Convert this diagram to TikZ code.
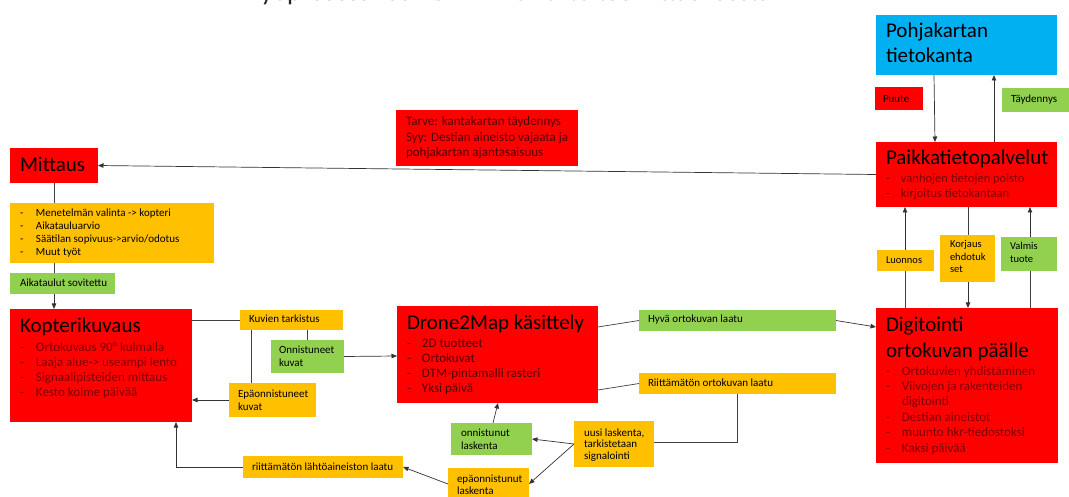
\documentclass[tikz,border=0pt]{standalone}
\usepackage{fontspec}
\setmainfont{Carlito}
\usetikzlibrary{arrows.meta}
\definecolor{cred}{RGB}{255,0,0}
\definecolor{corg}{RGB}{255,192,0}
\definecolor{cgrn}{RGB}{146,208,80}
\definecolor{cblu}{RGB}{0,176,240}
\definecolor{dred}{RGB}{125,0,0}
\definecolor{ddred}{RGB}{80,0,0}
\newcommand\panel[3]{\begin{minipage}[t][#2][t]{#1}\setlength\parindent{0pt}\raggedright #3\end{minipage}}
\newcommand\itm[1][16pt]{\makebox[#1][l]{-}}
\tikzset{
  pnl/.style={anchor=north west, inner sep=0pt, outer sep=0pt},
  ln/.style={draw=black!75, line width=0.7pt},
  arr/.style={draw=black!80, line width=0.7pt, -{Triangle[length=5.5pt,width=4.5pt]}}
}
\begin{document}
\begin{tikzpicture}[x=1pt,y=-1pt]
\useasboundingbox (0,0) rectangle (1069,497);
\fill[white] (0,0) rectangle (1069,497);
\node[anchor=base, font=\fontsize{27}{30}\selectfont, text=black!85] (title) at (510,1) {Työprosessikaavio MT1 lo kartoitusmittauksesta};

% right column
\node[pnl,fill=cblu] (pohja) at (876,15) {\panel{181pt}{60pt}{\leftskip=10pt\fontsize{21}{25}\selectfont\rule{0pt}{23pt}Pohjakartan\\tietokanta}};
\node[pnl,fill=cred] (puute) at (875,87) {\panel{48pt}{23pt}{\leftskip=8pt\fontsize{11}{13}\selectfont\rule{0pt}{16pt}Puute}};
\node[pnl,fill=cgrn] (tayd) at (1002,88) {\panel{72pt}{24pt}{\leftskip=9pt\fontsize{11}{13}\selectfont\rule{0pt}{15pt}Täydennys}};
\node[pnl,fill=cred] (paikka) at (876,142) {\panel{181pt}{65pt}{\leftskip=10pt{\fontsize{21}{24}\selectfont\rule{0pt}{23pt}Paikkatietopalvelut\par}\vspace{3.5pt}{\fontsize{12.5}{14.5}\selectfont\leavevmode\color{dred}\itm[15pt]vanhojen tietojen poisto\\\itm[15pt]kirjoitus tietokantaan\par}}};
\node[pnl,fill=corg] (luon) at (877,250) {\panel{57pt}{21pt}{\leftskip=9pt\fontsize{10.5}{12}\selectfont\rule{0pt}{13.5pt}Luonnos}};
\node[pnl,fill=corg] (korj) at (940,235) {\panel{55pt}{47pt}{\leftskip=10pt\fontsize{10.5}{12.5}\selectfont\rule{0pt}{13pt}Korjaus\\ehdotuk\\set}};
\node[pnl,fill=cgrn] (valm) at (1001,237) {\panel{56pt}{34pt}{\leftskip=9pt\fontsize{10.5}{13}\selectfont\rule{0pt}{13pt}Valmis\\tuote}};
\node[pnl,fill=cred] (digi) at (876,308) {\panel{182pt}{155pt}{\leftskip=10pt{\fontsize{21}{26}\selectfont\rule{0pt}{23pt}Digitointi\\ortokuvan päälle\par}\vspace{2.6pt}{\fontsize{13}{15.4}\selectfont\leavevmode\color{dred}\itm Ortokuvien yhdistäminen\\\itm Viivojen ja rakenteiden\\\hspace*{16pt}digitointi\\\itm Destian aineistot\\\itm muunto hkr-tiedostoksi\\\itm Kaksi päivää\par}}};

% top middle
\node[pnl,fill=cred] (tarve) at (396,110) {\panel{182pt}{56pt}{\leftskip=10pt\fontsize{13}{15.5}\selectfont\leavevmode\color{ddred}\rule{0pt}{16pt}Tarve: kantakartan täydennys\\Syy: Destian aineisto vajaata ja\\pohjakartan ajantasaisuus}};

% left column
\node[pnl,fill=cred] (mit) at (10,148) {\panel{88pt}{35pt}{\leftskip=10pt\fontsize{21}{24}\selectfont\rule{0pt}{24pt}Mittaus}};
\node[pnl,fill=corg] (list) at (10,203) {\panel{204pt}{60pt}{\leftskip=10pt\fontsize{11}{12.7}\selectfont\rule{0pt}{14pt}\itm Menetelmän valinta -> kopteri\\\itm Aikatauluarvio\\\itm Säätilan sopivuus->arvio/odotus\\\itm Muut työt}};
\node[pnl,fill=cgrn] (aika) at (10,273) {\panel{105pt}{21pt}{\leftskip=10pt\fontsize{11}{13}\selectfont\rule{0pt}{14pt}Aikataulut sovitettu}};
\node[pnl,fill=cred] (kop) at (10,309) {\panel{182pt}{113pt}{\leftskip=10pt{\fontsize{21}{24}\selectfont\rule{0pt}{23pt}Kopterikuvaus\par}\vspace{5pt}{\fontsize{13}{15}\selectfont\leavevmode\color{dred}\itm Ortokuvaus 90° kulmalla\\\itm Laaja alue-> useampi lento\\\itm Signaalipisteiden mittaus\\\itm Kesto kolme päivää\par}}};

\node[pnl,fill=corg] (kuv) at (240,310) {\panel{103pt}{20pt}{\leftskip=9pt\fontsize{11}{13}\selectfont\rule{0pt}{13pt}Kuvien tarkistus}};
\node[pnl,fill=cgrn] (onn) at (271,340) {\panel{73pt}{33pt}{\leftskip=8pt\fontsize{11}{13}\selectfont\rule{0pt}{13pt}Onnistuneet\\kuvat}};
\node[pnl,fill=corg] (epa) at (229,383) {\panel{87pt}{34pt}{\leftskip=9pt\fontsize{11}{13}\selectfont\rule{0pt}{14pt}Epäonnistuneet\\kuvat}};
\node[pnl,fill=corg] (riitl) at (243,456) {\panel{160pt}{22pt}{\leftskip=9pt\fontsize{11}{13}\selectfont\rule{0pt}{14pt}riittämätön lähtöaineiston laatu}};

% middle
\node[pnl,fill=cred] (drone) at (397,306) {\panel{201pt}{97pt}{\leftskip=10pt{\fontsize{21}{24}\selectfont\rule{0pt}{24pt}Drone2Map käsittely\par}\vspace{3pt}{\fontsize{13}{15}\selectfont\leavevmode\color{ddred}\itm[15pt]2D tuotteet\\\itm[15pt]Ortokuvat\\\itm[15pt]DTM-pintamalli rasteri\\\itm[15pt]Yksi päivä\par}}};
\node[pnl,fill=cgrn] (hyva) at (639,310) {\panel{197pt}{21pt}{\leftskip=9pt\fontsize{11}{13}\selectfont\rule{0pt}{13pt}Hyvä ortokuvan laatu}};
\node[pnl,fill=corg] (riitt) at (639,373) {\panel{197pt}{21pt}{\leftskip=9pt\fontsize{11}{13}\selectfont\rule{0pt}{13pt}Riittämätön ortokuvan laatu}};
\node[pnl,fill=cgrn] (onnl) at (451,423) {\panel{81pt}{32pt}{\leftskip=10pt\fontsize{11}{13}\selectfont\rule{0pt}{13pt}onnistunut\\laskenta}};
\node[pnl,fill=corg] (uusi) at (574,421) {\panel{80pt}{46pt}{\leftskip=10pt\fontsize{11}{11.5}\selectfont\rule{0pt}{15pt}uusi laskenta,\\tarkistetaan\\signalointi}};
\node[pnl,fill=corg] (epal) at (448,468) {\panel{81pt}{32pt}{\leftskip=9pt\fontsize{11}{12}\selectfont\rule{0pt}{14pt}epäonnistunut\\laskenta}};

% connectors
\draw[arr] ([xshift=58pt]pohja.south west) -- ([xshift=59pt]paikka.north west);
\draw[arr] ([xshift=118pt]paikka.north west) -- ([xshift=118pt]pohja.south west);
\draw[arr] (paikka.west) -- (mit.east);
\draw[ln] (mit.south) -- (mit.south |- list.north);
\draw[ln] (mit.south |- list.south) -- (mit.south |- aika.north);
\draw[arr] (mit.south |- aika.south) -- (mit.south |- kop.north);
\draw[ln] (kuv.west) -- (kuv.west -| kop.east);
\draw[ln] ([xshift=11pt]kuv.south west) coordinate (k1) -- (k1 |- epa.north);
\draw[ln] ([xshift=67pt]kuv.south west) coordinate (k2) -- (k2 |- onn.north);
\draw[arr] (onn.east) -- ([yshift=-50pt]drone.north west);
\draw[arr] (epa.west) -- (epa.west -| kop.east);
\draw[ln] ([yshift=-21pt]drone.north east) -- (hyva.west);
\draw[arr] (hyva.east) -- ([yshift=-19pt]digi.north west);
\draw[ln] ([yshift=-84pt]drone.north east) -- (riitt.west);
\draw[ln] ([xshift=98pt]riitt.south west) coordinate (r1) -- ([yshift=1.5pt]r1 |- uusi.east) -- ([yshift=1.5pt]uusi.east);
\draw[arr] (uusi.west) -- (onnl.east);
\draw[arr] (uusi.west) -- ([yshift=-16pt]epal.north east);
\draw[arr] ([xshift=42pt]onnl.north west) -- ([xshift=101pt]drone.south west);
\draw[arr] ([yshift=-16pt]epal.north west) -- (riitl.east);
\draw[arr] (riitl.west) -| ([xshift=166pt]kop.south west);
\draw[ln] ([xshift=29pt]digi.north west) coordinate (d1) -- (d1 |- luon.south);
\draw[arr] (d1 |- luon.north) -- (d1 |- paikka.south);
\draw[ln] ([xshift=92pt]paikka.south west) coordinate (d2) -- (d2 |- korj.north);
\draw[arr] (d2 |- korj.south) -- (d2 |- digi.north);
\draw[ln] ([xshift=154pt]digi.north west) coordinate (d3) -- (d3 |- valm.south);
\draw[arr] (d3 |- valm.north) -- (d3 |- paikka.south);
\end{tikzpicture}
\end{document}
